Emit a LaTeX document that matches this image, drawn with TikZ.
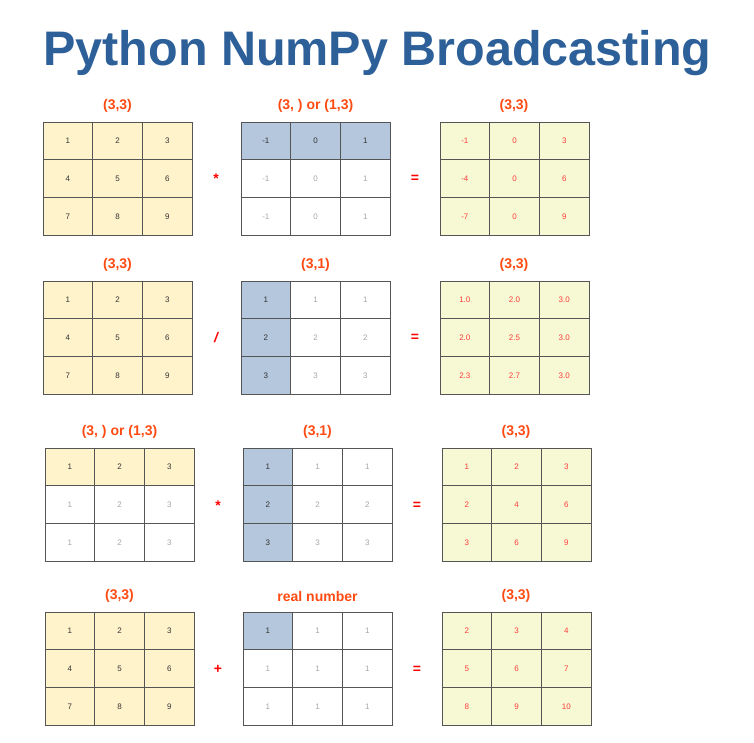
\documentclass[tikz,border=0pt]{standalone}
\usepackage{fontspec}
\setmainfont{Liberation Sans}
\definecolor{titleblue}{HTML}{2D6099}
\definecolor{lblorange}{HTML}{FF4A12}
\definecolor{yell}{HTML}{FFF3CC}
\definecolor{bluec}{HTML}{B4C7DC}
\definecolor{resc}{HTML}{F6F9D4}
\definecolor{gridline}{HTML}{555555}
\definecolor{darktxt}{HTML}{333333}
\definecolor{greytxt}{HTML}{A6A6A6}
\definecolor{redtxt}{HTML}{FF3B3B}
\tikzset{
  cellbase/.style={draw=gridline, line width=0.9pt, minimum width=49.7pt, minimum height=37.7pt,
    inner sep=0pt, outer sep=0pt, font=\fontsize{8}{9}\selectfont},
  cellY/.style={cellbase, fill=yell, text=darktxt},
  cellB/.style={cellbase, fill=bluec, text=darktxt},
  cellW/.style={cellbase, fill=white, text=greytxt},
  cellR/.style={cellbase, fill=resc, text=redtxt},
  lbl/.style={font=\fontsize{14}{16}\selectfont\bfseries, text=lblorange},
  opr/.style={font=\fontsize{14}{16}\selectfont\bfseries, text=red},
}
\newcommand\mygrid[4]{%
  \foreach \s/\v [count=\k from 0] in {#4}{%
    \pgfmathtruncatemacro\col{mod(\k,3)}%
    \pgfmathtruncatemacro\row{div(\k,3)}%
    \node[cell\s] (#1-\k) at ({#2+(\col+0.5)*49.7},{#3+(\row+0.5)*37.7}) {\v};
  }%
}
\begin{document}
\begin{tikzpicture}[x=1pt,y=-1pt]
\useasboundingbox (0,0) rectangle (754,742);
\node[anchor=base, text=titleblue, font=\fontsize{48.5}{52}\selectfont\bfseries] (title) at (377.5,65) {Python NumPy Broadcasting};

% Row 1
\node[lbl] (l1a) at (117.5,106) {(3,3)};
\node[lbl] (l1b) at (315.5,106) {(3, ) or (1,3)};
\node[lbl] (l1c) at (514,106) {(3,3)};
\mygrid{g1a}{43}{122}{Y/1,Y/2,Y/3,Y/4,Y/5,Y/6,Y/7,Y/8,Y/9}
\mygrid{g1b}{241}{122}{B/-1,B/0,B/1,W/-1,W/0,W/1,W/-1,W/0,W/1}
\mygrid{g1c}{440}{122}{R/-1,R/0,R/3,R/-4,R/0,R/6,R/-7,R/0,R/9}
\node[opr] (o1a) at (216,179) {*};
\node[opr] (o1b) at (415,179) {=};

% Row 2
\node[lbl] (l2a) at (117.5,265) {(3,3)};
\node[lbl] (l2b) at (315.5,265) {(3,1)};
\node[lbl] (l2c) at (514,265) {(3,3)};
\mygrid{g2a}{43}{281}{Y/1,Y/2,Y/3,Y/4,Y/5,Y/6,Y/7,Y/8,Y/9}
\mygrid{g2b}{241}{281}{B/1,W/1,W/1,B/2,W/2,W/2,B/3,W/3,W/3}
\mygrid{g2c}{440}{281}{R/1.0,R/2.0,R/3.0,R/2.0,R/2.5,R/3.0,R/2.3,R/2.7,R/3.0}
\node[opr, font=\fontsize{14}{16}\selectfont\bfseries\itshape] (o2a) at (216,338) {/};
\node[opr] (o2b) at (415,338) {=};

% Row 3
\node[lbl] (l3a) at (119.5,432) {(3, ) or (1,3)};
\node[lbl] (l3b) at (317.5,432) {(3,1)};
\node[lbl] (l3c) at (516,432) {(3,3)};
\mygrid{g3a}{45}{448}{Y/1,Y/2,Y/3,W/1,W/2,W/3,W/1,W/2,W/3}
\mygrid{g3b}{243}{448}{B/1,W/1,W/1,B/2,W/2,W/2,B/3,W/3,W/3}
\mygrid{g3c}{442}{448}{R/1,R/2,R/3,R/2,R/4,R/6,R/3,R/6,R/9}
\node[opr] (o3a) at (218,506) {*};
\node[opr] (o3b) at (417,506) {=};

% Row 4
\node[lbl] (l4a) at (119.5,596) {(3,3)};
\node[lbl] (l4b) at (317.5,596) {real number};
\node[lbl] (l4c) at (516,596) {(3,3)};
\mygrid{g4a}{45}{612}{Y/1,Y/2,Y/3,Y/4,Y/5,Y/6,Y/7,Y/8,Y/9}
\mygrid{g4b}{243}{612}{B/1,W/1,W/1,W/1,W/1,W/1,W/1,W/1,W/1}
\mygrid{g4c}{442}{612}{R/2,R/3,R/4,R/5,R/6,R/7,R/8,R/9,R/10}
\node[opr] (o4a) at (218,669) {+};
\node[opr] (o4b) at (417,670) {=};
\end{tikzpicture}
\end{document}
